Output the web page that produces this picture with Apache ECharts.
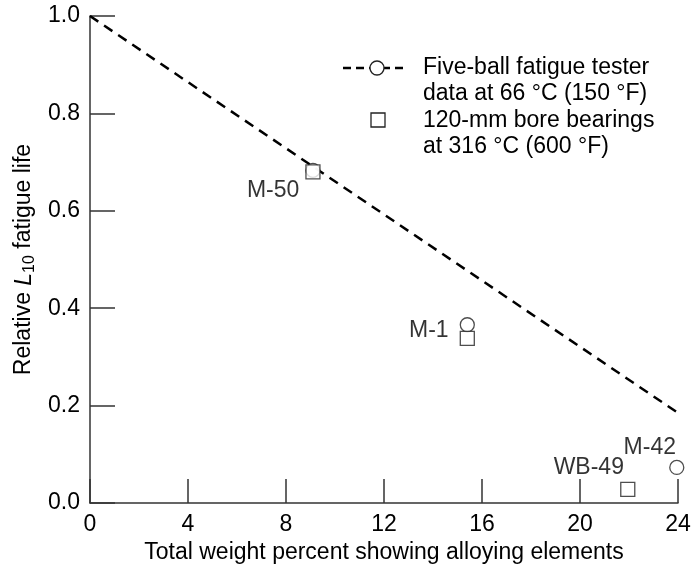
<!DOCTYPE html>
<html><head><meta charset="utf-8">
<script src="https://cdn.jsdelivr.net/npm/echarts@6/dist/echarts.min.js"></script>
<style>html,body{margin:0;padding:0;background:#fff}#c{width:694px;height:571px}</style>
</head><body><div id="c"></div>
<script>
// Data
const xTicks = [0, 4, 8, 12, 16, 20, 24];
const yTicks = [0.0, 0.2, 0.4, 0.6, 0.8, 1.0];
const trendLine = [[0, 1.0], [24, 0.185]];
const pointNames = ['M-50', 'M-1', 'M-42'];
const fiveBallX = [9.1, 15.4, 23.95];
const fiveBallY = [0.683, 0.366, 0.073];
const bearingNames = ['M-50', 'M-1', 'WB-49'];
const bearingX = [9.1, 15.4, 21.95];
const bearingY = [0.68, 0.338, 0.028];
const legendText1 = ['Five-ball fatigue tester', 'data at 66 °C (150 °F)'];
const legendText2 = ['120-mm bore bearings', 'at 316 °C (600 °F)'];

const FONT = 'Liberation Sans, Arial, Helvetica, sans-serif';
const INK = '#000';
const FS = 23;

const circleLabels = {
  'M-50': {show: false},
  'M-1': {show: true, position: 'left', offset: [-6, 6]},
  'M-42': {show: true, position: 'top', offset: [-27, 4]}
};
const squareLabels = {
  'M-50': {show: true, position: 'left', offset: [-1, 19]},
  'M-1': {show: false},
  'WB-49': {show: true, position: 'top', offset: [-39, 2]}
};

const chart = echarts.init(document.getElementById('c'), null, {renderer: 'canvas'});
chart.setOption({
  animation: false,
  backgroundColor: '#fff',
  textStyle: {fontFamily: FONT, color: INK},
  grid: {left: 90, right: 16, top: 16, bottom: 68, containLabel: false},
  xAxis: {
    type: 'value', min: xTicks[0], max: xTicks[xTicks.length - 1], interval: 4,
    axisLine: {show: true, lineStyle: {color: '#333', width: 1.5}},
    axisTick: {show: true, inside: true, length: 24, lineStyle: {color: '#333', width: 1.5}},
    splitLine: {show: false},
    axisLabel: {fontSize: FS, color: INK, fontFamily: FONT, margin: 10},
    name: 'Total weight percent showing alloying elements',
    nameLocation: 'middle', nameGap: 37,
    nameTextStyle: {fontSize: FS, color: INK, fontFamily: FONT}
  },
  yAxis: {
    type: 'value', min: yTicks[0], max: yTicks[yTicks.length - 1], interval: 0.2,
    axisLine: {show: true, lineStyle: {color: '#333', width: 1.5}},
    axisTick: {show: true, inside: true, length: 25, lineStyle: {color: '#333', width: 1.5}},
    splitLine: {show: false},
    axisLabel: {fontSize: FS, color: INK, fontFamily: FONT, margin: 10, formatter: v => v.toFixed(1)},
    name: '{n|Relative }{i|L}{s|10}{n| fatigue life}',
    nameLocation: 'middle', nameGap: 44, nameRotate: 90,
    nameTextStyle: {
      fontSize: FS, color: INK, fontFamily: FONT,
      rich: {
        n: {fontSize: FS, fontFamily: FONT, color: INK},
        i: {fontSize: FS, fontFamily: FONT, fontStyle: 'italic', color: INK},
        s: {fontSize: 16, fontFamily: FONT, color: INK, verticalAlign: 'bottom', padding: [10, 0, 0, 0]}
      }
    }
  },
  series: [
    {
      type: 'line', data: trendLine, showSymbol: false, symbol: 'none',
      lineStyle: {color: '#000', width: 2.5, type: [10, 7]}, z: 1
    },
    {
      type: 'scatter', symbol: 'circle', symbolSize: 14, z: 3,
      itemStyle: {color: '#fff', borderColor: '#222', borderWidth: 1.3},
      data: pointNames.map((n, i) => ({
        name: n, value: [fiveBallX[i], fiveBallY[i]],
        label: Object.assign({formatter: '{b}', fontSize: FS, color: INK, fontFamily: FONT, distance: 5}, circleLabels[n])
      }))
    },
    {
      type: 'scatter', symbol: 'rect', symbolSize: 14, z: 4,
      itemStyle: {color: '#fff', borderColor: '#222', borderWidth: 1.3},
      data: bearingNames.map((n, i) => ({
        name: n, value: [bearingX[i], bearingY[i]],
        label: Object.assign({formatter: '{b}', fontSize: FS, color: INK, fontFamily: FONT, distance: 5}, squareLabels[n])
      }))
    }
  ],
  graphic: [
    {type: 'line', shape: {x1: 343, y1: 68, x2: 405, y2: 68}, style: {stroke: '#000', lineWidth: 2.5, lineDash: [8, 5]}, z: 10},
    {type: 'circle', shape: {cx: 377, cy: 68, r: 7}, style: {fill: '#fff', stroke: '#222', lineWidth: 1.3}, z: 11},
    {type: 'rect', shape: {x: 371, y: 113, width: 14, height: 14}, style: {fill: '#fff', stroke: '#222', lineWidth: 1.3}, z: 11},
    {type: 'text', left: 423, top: 54, style: {text: legendText1.join('\n'), font: FS + 'px ' + FONT, fill: INK, lineHeight: 26.5}, z: 11},
    {type: 'text', left: 423, top: 107, style: {text: legendText2.join('\n'), font: FS + 'px ' + FONT, fill: INK, lineHeight: 26.5}, z: 11}
  ]
});
</script></body></html>
